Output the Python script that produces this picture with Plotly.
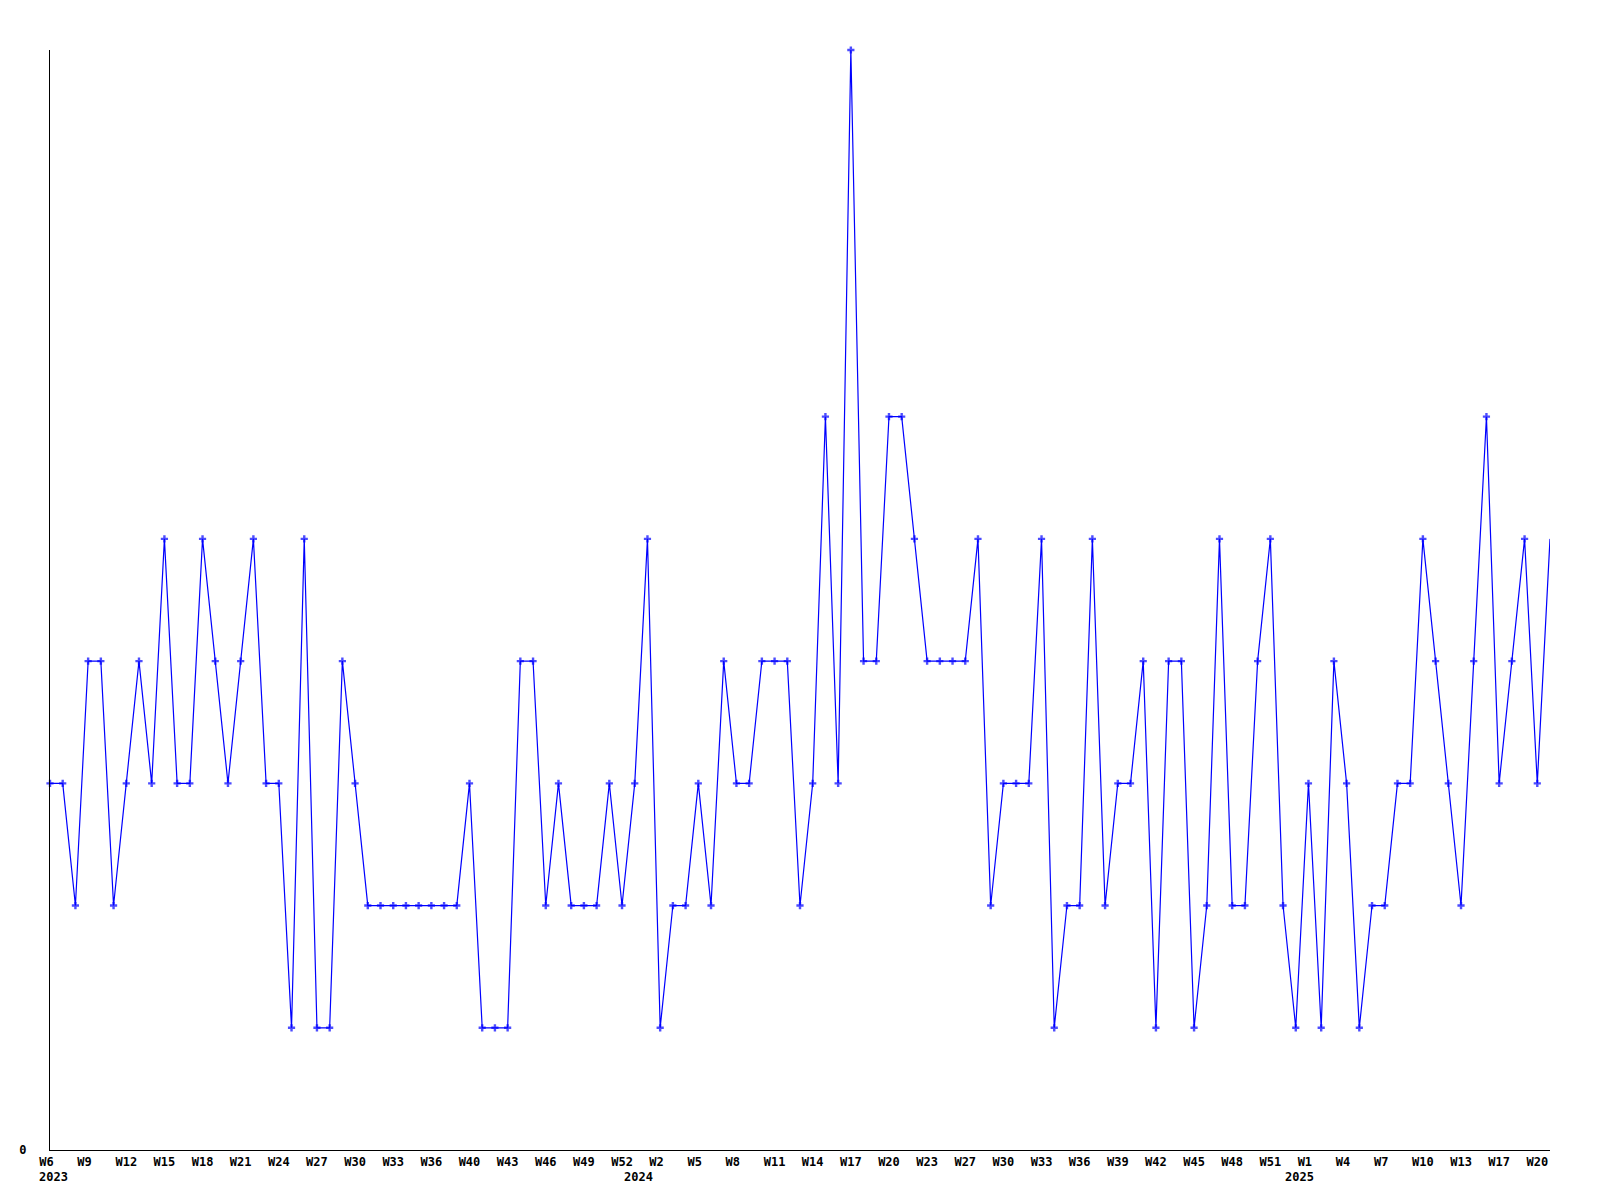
import plotly.graph_objects as go

# Weekly counts, 2023 W6 .. 2025 W20
values = [
    3, 3, 2, 4, 4, 2, 3, 4, 3, 5,
    3, 3, 5, 4, 3, 4, 5, 3, 3, 1,
    5, 1, 1, 4, 3, 2, 2, 2, 2, 2,
    2, 2, 2, 3, 1, 1, 1, 4, 4, 2,
    3, 2, 2, 2, 3, 2, 3, 5, 1, 2,
    2, 3, 2, 4, 3, 3, 4, 4, 4, 2,
    3, 6, 3, 9, 4, 4, 6, 6, 5, 4,
    4, 4, 4, 5, 2, 3, 3, 3, 5, 1,
    2, 2, 5, 2, 3, 3, 4, 1, 4, 4,
    1, 2, 5, 2, 2, 4, 5, 2, 1, 3,
    1, 4, 3, 1, 2, 2, 3, 3, 5, 4,
    3, 2, 4, 6, 3, 4, 5, 3, 5,
]

tick_labels = [
    "W6", "W9", "W12", "W15", "W18", "W21", "W24", "W27", "W30", "W33",
    "W36", "W40", "W43", "W46", "W49", "W52", "W2", "W5", "W8", "W11",
    "W14", "W17", "W20", "W23", "W27", "W30", "W33", "W36", "W39", "W42",
    "W45", "W48", "W51", "W1", "W4", "W7", "W10", "W13", "W17", "W20",
]

year_labels = ["2023", "2024", "2025"]
year_start_index = [0, 47, 99]

n = len(values)
x = list(range(n))
tick_step = 3
tickvals = list(range(0, n, tick_step))[: len(tick_labels)]
# left-align short labels like the original (pad with non-breaking spaces)
ticktext = [t + "\u00a0" * (3 - len(t)) for t in tick_labels]

marker_sizes = [6] * (n - 1) + [0]

font_family = "DejaVu Sans Mono"
font_size = 12

fig = go.Figure()
fig.add_trace(
    go.Scatter(
        x=x,
        y=values,
        mode="lines+markers",
        line=dict(color="#0000ff", width=1.2),
        marker=dict(symbol="cross", size=marker_sizes, color="#0000ff", line=dict(width=0)),
        cliponaxis=False,
        hoverinfo="skip",
        showlegend=False,
    )
)

year_shift = [3, -9, -9]
for label, idx, sh in zip(year_labels, year_start_index, year_shift):
    fig.add_annotation(
        x=idx,
        y=0,
        xref="x",
        yref="paper",
        text=label,
        showarrow=False,
        xanchor="center",
        yanchor="middle",
        xshift=sh,
        yshift=-27,
        font=dict(family=font_family, size=font_size, color="black", weight="bold"),
    )

fig.update_layout(
    width=1600,
    height=1200,
    margin=dict(l=42, r=58, t=42, b=58),
    plot_bgcolor="white",
    paper_bgcolor="white",
    font=dict(family=font_family, size=font_size, color="black", weight="bold"),
    xaxis=dict(
        range=[0, n - 1],
        tickmode="array",
        tickvals=tickvals,
        ticktext=ticktext,
        showgrid=False,
        zeroline=False,
        showline=True,
        linecolor="black",
        linewidth=1,
        ticks="",
        ticklabelstandoff=1,
        tickfont=dict(family=font_family, size=font_size, color="black", weight="bold"),
    ),
    yaxis=dict(
        range=[0, max(values)],
        tickmode="array",
        tickvals=[0],
        ticktext=["0"],
        showgrid=False,
        zeroline=False,
        showline=True,
        linecolor="black",
        linewidth=1,
        ticks="",
        ticklabelstandoff=20,
        tickfont=dict(family=font_family, size=font_size, color="black", weight="bold"),
    ),
)

fig.write_html("out.html")
